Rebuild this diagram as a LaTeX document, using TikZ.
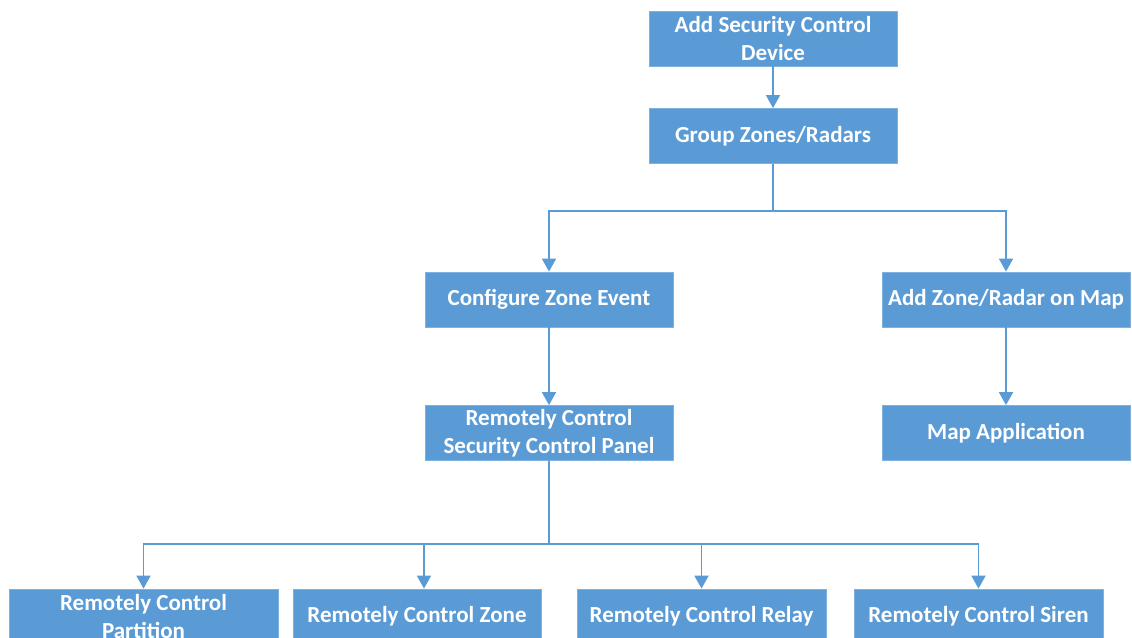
\documentclass[tikz,border=0pt]{standalone}
\usepackage{fontspec}
\setmainfont{Carlito}
\usetikzlibrary{arrows.meta}
\definecolor{boxblue}{HTML}{5B9BD5}
\definecolor{boxedge}{HTML}{7DB1E0}
\begin{document}
\begin{tikzpicture}[x=1pt,y=-1pt,
  stepbox/.style={draw=boxedge, line width=0.8pt, fill=boxblue, text=white,
    font=\fontsize{23}{28}\selectfont\bfseries, align=center,
    minimum width=#1, minimum height=55pt, inner sep=0pt},
  stepbox/.default=248pt,
  conn/.style={draw=boxblue, line width=1.8pt,
    -{Triangle[width=14pt,length=13pt]}},
  plain/.style={draw=boxblue, line width=1.8pt}]
\useasboundingbox (0,0) rectangle (1132,637);
\clip (0,0) rectangle (1132,637);

\node[stepbox] (top) at (773,38.5) {Add Security Control\\Device};
\node[stepbox] (group) at (773,136) {Group Zones/Radars};
\node[stepbox] (config) at (549,299.5) {Configure Zone Event};
\node[stepbox] (addmap) at (1006,299.5) {Add Zone/Radar on Map};
\node[stepbox] (rcscp) at (549,433) {Remotely Control\\Security Control Panel};
\node[stepbox] (mapapp) at (1006,433) {Map Application};
\node[stepbox=269pt] (part) at (143.5,616.5) {Remotely Control\\Partition};
\node[stepbox] (zone) at (417,616.5) {Remotely Control Zone};
\node[stepbox=249pt] (relay) at (701.5,616.5) {Remotely Control Relay};
\node[stepbox=249pt] (siren) at (978.5,616.5) {Remotely Control Siren};

\coordinate (j1) at (773,211);
\coordinate (j2) at (549,544);

\draw[conn] (top.south) -- (group.north);
\draw[plain] (group.south) -- (j1);
\draw[conn] (j1) -| (config.north);
\draw[conn] (j1) -| (addmap.north);
\draw[conn] (config.south) -- (rcscp.north);
\draw[conn] (addmap.south) -- (mapapp.north);
\draw[plain] (rcscp.south) -- (j2);
\draw[conn] (j2) -| (part.north);
\draw[conn] (j2) -| ([xshift=7pt]zone.north);
\draw[conn] (j2) -| (relay.north);
\draw[conn] (j2) -| (siren.north);
\end{tikzpicture}
\end{document}
